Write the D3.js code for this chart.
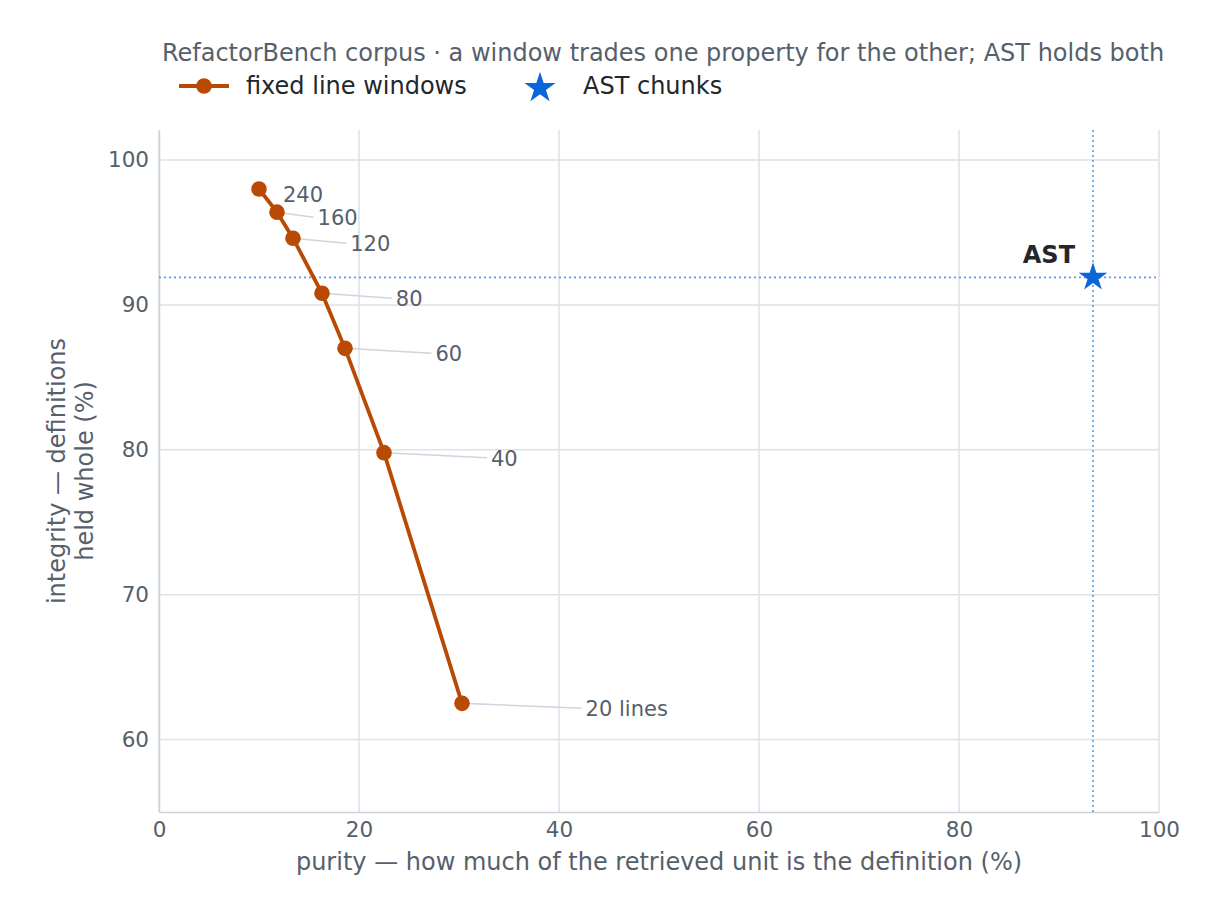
<!DOCTYPE html>
<html><head><meta charset="utf-8">
<script src="https://cdn.jsdelivr.net/npm/d3@7"></script>
<style>
html,body{margin:0;padding:0;background:#fff;}
text{font-family:"DejaVu Sans",sans-serif;}
</style></head>
<body><svg id="chart" width="1223" height="918"></svg>
<script>
// ---- data ----
const windowLabels = ["240", "160", "120", "80", "60", "40", "20 lines"];
const windowPurity = [10.0, 11.8, 13.4, 16.3, 18.6, 22.5, 30.3];
const windowIntegrity = [98.0, 96.4, 94.6, 90.8, 87.0, 79.8, 62.5];
const astPurity = [93.4];
const astIntegrity = [91.9];
const xTicks = [0, 20, 40, 60, 80, 100];
const yTicks = [60, 70, 80, 90, 100];
const titleText = "RefactorBench corpus · a window trades one property for the other; AST holds both";
const legendLabels = ["fixed line windows", "AST chunks"];
const xLabel = "purity — how much of the retrieved unit is the definition (%)";
const yLabelLines = ["integrity — definitions", "held whole (%)"];

// ---- layout ----
const W = 1223, H = 918;
const m = {left: 159, right: 1159, top: 130, bottom: 812};
const orange = "#b94a04", blue = "#0b66d9", grid = "#dde2e8", spine = "#cdd3db", muted = "#56606b";
const svg = d3.select("#chart");

const x = d3.scaleLinear().domain([0, 100]).range([m.left, m.right]);
const y = d3.scaleLinear().domain([55, 102.07]).range([m.bottom, m.top]);

// grid
svg.append("g").selectAll("line").data(xTicks).join("line")
  .attr("x1", d => x(d)).attr("x2", d => x(d)).attr("y1", m.top).attr("y2", m.bottom)
  .attr("stroke", grid).attr("stroke-width", 1.5);
svg.append("g").selectAll("line").data(yTicks).join("line")
  .attr("x1", m.left).attr("x2", m.right).attr("y1", d => y(d)).attr("y2", d => y(d))
  .attr("stroke", grid).attr("stroke-width", 1.5);

// axes
const xAxis = svg.append("g").attr("transform", `translate(0,${m.bottom})`)
  .call(d3.axisBottom(x).tickValues(xTicks).tickSize(0).tickPadding(10));
const yAxis = svg.append("g").attr("transform", `translate(${m.left},0)`)
  .call(d3.axisLeft(y).tickValues(yTicks).tickSize(0).tickPadding(10));
[xAxis, yAxis].forEach(g => {
  g.select(".domain").attr("stroke", spine).attr("stroke-width", 1.5);
  g.selectAll("text").attr("fill", muted).attr("font-size", 21.5).attr("font-family", "DejaVu Sans");
});
xAxis.selectAll("text").attr("dy", "0.71em");

// AST reference lines
svg.append("line").attr("x1", m.left).attr("x2", m.right)
  .attr("y1", y(astIntegrity[0])).attr("y2", y(astIntegrity[0]))
  .attr("stroke", "#5b9be0").attr("stroke-width", 1.6).attr("stroke-dasharray", "2,3");
svg.append("line").attr("x1", x(astPurity[0])).attr("x2", x(astPurity[0]))
  .attr("y1", m.top).attr("y2", m.bottom)
  .attr("stroke", "#5b9be0").attr("stroke-width", 1.6).attr("stroke-dasharray", "2,3");

// window series
const pts = windowPurity.map((p, i) => ({x: p, y: windowIntegrity[i], label: windowLabels[i], i}));
const lbl = d => ({lx: x(d.x) + 24 + 16.6 * d.i, ly: y(d.y) + 6});

svg.append("g").selectAll("line").data(pts.filter(d => d.i > 0)).join("line")
  .attr("x1", d => x(d.x)).attr("y1", d => y(d.y))
  .attr("x2", d => lbl(d).lx - 4).attr("y2", d => lbl(d).ly - 1)
  .attr("stroke", "#cdd5de").attr("stroke-width", 1.5);

svg.append("path").datum(pts)
  .attr("d", d3.line().x(d => x(d.x)).y(d => y(d.y)))
  .attr("fill", "none").attr("stroke", orange).attr("stroke-width", 3.8);
svg.append("g").selectAll("circle").data(pts).join("circle")
  .attr("cx", d => x(d.x)).attr("cy", d => y(d.y)).attr("r", 7.8).attr("fill", orange);

svg.append("g").selectAll("text").data(pts).join("text")
  .attr("x", d => lbl(d).lx).attr("y", d => lbl(d).ly)
  .attr("dominant-baseline", "central").attr("font-size", 21).attr("fill", muted)
  .text(d => d.label);

// AST star
const star = d3.symbol().type(d3.symbolStar).size(255);
const legendStar = d3.symbol().type(d3.symbolStar).size(300);
svg.append("path").attr("d", star())
  .attr("transform", `translate(${x(astPurity[0])},${y(astIntegrity[0])})`)
  .attr("fill", blue);
svg.append("text").attr("x", x(astPurity[0]) - 18).attr("y", y(astIntegrity[0]) - 22)
  .attr("text-anchor", "end").attr("dominant-baseline", "central")
  .attr("font-size", 24).attr("font-weight", "bold").attr("fill", "#23262b").text("AST");

// title
svg.append("text").attr("x", 663).attr("y", 53).attr("text-anchor", "middle")
  .attr("dominant-baseline", "central").attr("font-size", 24).attr("fill", muted).text(titleText);

// legend
const lg = svg.append("g");
lg.append("line").attr("x1", 179).attr("x2", 229).attr("y1", 86).attr("y2", 86)
  .attr("stroke", orange).attr("stroke-width", 3.8);
lg.append("circle").attr("cx", 204).attr("cy", 86).attr("r", 7.8).attr("fill", orange);
lg.append("text").attr("x", 246).attr("y", 86).attr("dominant-baseline", "central")
  .attr("font-size", 24).attr("fill", "#23262b").text(legendLabels[0]);
lg.append("path").attr("d", legendStar()).attr("transform", "translate(540,88)").attr("fill", blue);
lg.append("text").attr("x", 583).attr("y", 86).attr("dominant-baseline", "central")
  .attr("font-size", 24).attr("fill", "#23262b").text(legendLabels[1]);

// axis labels
svg.append("text").attr("x", (m.left + m.right) / 2).attr("y", 862)
  .attr("text-anchor", "middle").attr("dominant-baseline", "central")
  .attr("font-size", 24).attr("fill", muted).text(xLabel);
const yl = svg.append("text").attr("transform", `translate(57,${(m.top + m.bottom) / 2}) rotate(-90)`)
  .attr("text-anchor", "middle").attr("font-size", 24).attr("fill", muted);
yLabelLines.forEach((t, i) => yl.append("tspan").attr("x", 0).attr("dy", i === 0 ? "0.35em" : "1.17em").text(t));
</script></body></html>
